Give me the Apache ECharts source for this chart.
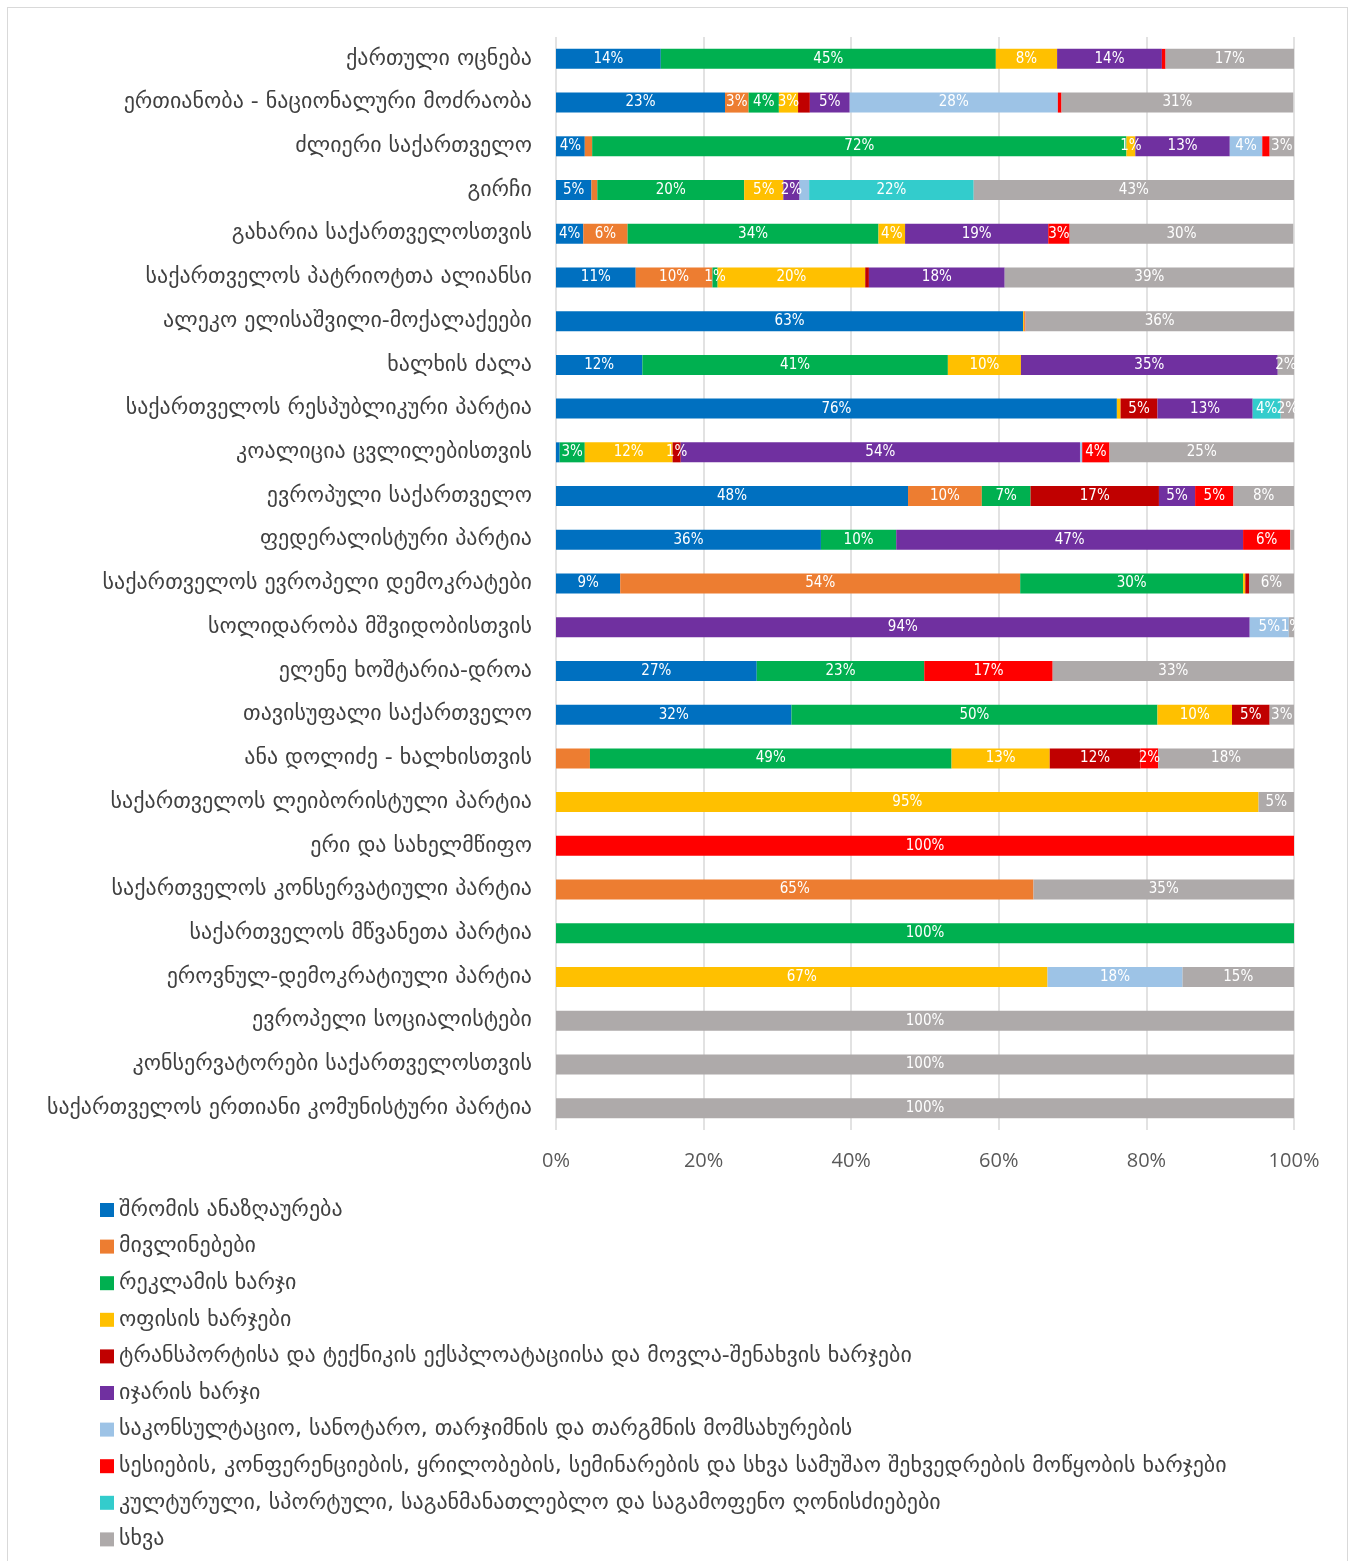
<!DOCTYPE html>
<html><head><meta charset="utf-8">
<script src="https://cdn.jsdelivr.net/npm/echarts@6/dist/echarts.min.js"></script>
<style>
html,body{margin:0;padding:0;background:#fff;}
#frame{position:absolute;left:7px;top:7px;width:1341px;height:1560px;border:1px solid #D9D9D9;border-bottom:none;box-sizing:border-box;}
#c{position:absolute;left:0;top:0;width:1356px;height:1561px;}
</style></head>
<body><div id="frame"></div><div id="c"></div>
<script>
const categories = [
 "ქართული ოცნება","ერთიანობა - ნაციონალური მოძრაობა","ძლიერი საქართველო","გირჩი",
 "გახარია საქართველოსთვის","საქართველოს პატრიოტთა ალიანსი","ალეკო ელისაშვილი-მოქალაქეები",
 "ხალხის ძალა","საქართველოს რესპუბლიკური პარტია","კოალიცია ცვლილებისთვის","ევროპული საქართველო",
 "ფედერალისტური პარტია","საქართველოს ევროპელი დემოკრატები","სოლიდარობა მშვიდობისთვის",
 "ელენე ხოშტარია-დროა","თავისუფალი საქართველო","ანა დოლიძე - ხალხისთვის",
 "საქართველოს ლეიბორისტული პარტია","ერი და სახელმწიფო","საქართველოს კონსერვატიული პარტია",
 "საქართველოს მწვანეთა პარტია","ეროვნულ-დემოკრატიული პარტია","ევროპელი სოციალისტები",
 "კონსერვატორები საქართველოსთვის","საქართველოს ერთიანი კომუნისტური პარტია"
];
const seriesNames = [
 "შრომის ანაზღაურება","მივლინებები","რეკლამის ხარჯი","ოფისის ხარჯები",
 "ტრანსპორტისა და ტექნიკის ექსპლოატაციისა და მოვლა-შენახვის ხარჯები","იჯარის ხარჯი",
 "საკონსულტაციო, სანოტარო, თარჯიმნის და თარგმნის მომსახურების",
 "სესიების, კონფერენციების, ყრილობების, სემინარების და სხვა სამუშაო შეხვედრების მოწყობის ხარჯები",
 "კულტურული, სპორტული, საგანმანათლებლო და საგამოფენო ღონისძიებები","სხვა"
];
// values in % per category (top to bottom)
const wages      = [14.2,22.9,3.9,4.8,3.7,10.8,63.3,11.7,76.0,0.5,47.7,35.9,8.7,0,27.2,31.9,0,0,0,0,0,0,0,0,0];
const travel     = [0,3.2,1.0,0.8,6.0,10.4,0,0,0,0,10.0,0,54.2,0,0,0,4.6,0,0,64.7,0,0,0,0,0];
const advert     = [45.4,4.1,72.4,19.9,34.0,0.7,0,41.4,0,3.4,6.6,10.2,30.2,0,22.7,49.6,49.0,0,0,0,100,0,0,0,0];
const office     = [8.3,2.6,1.2,5.3,3.6,20.0,0.2,9.9,0.5,11.9,0,0,0.3,0,0,10.1,13.3,95.2,0,0,0,66.6,0,0,0];
const transport  = [0,1.6,0,0,0,0.5,0,0,5.0,1.1,17.4,0,0.5,0,0,5.1,12.3,0,0,0,0,0,0,0,0];
const rent       = [14.2,5.4,12.8,2.2,19.4,18.4,0,34.8,12.9,54.1,4.9,47.0,0,94.0,0,0,0,0,0,0,0,0,0,0,0];
const consulting = [0,28.2,4.4,1.3,0,0,0,0,0,0.3,0,0,0,5.3,0,0,0,0,0,0,0,18.3,0,0,0];
const meetings   = [0.5,0.5,1.0,0,2.9,0,0.1,0,0,3.7,5.2,6.4,0,0,17.4,0,2.4,0,100,0,0,0,0,0,0];
const culture    = [0,0,0,22.3,0,0,0,0,3.8,0,0,0,0,0,0,0,0,0,0,0,0,0,0,0,0];
const other      = [17.4,31.4,3.3,43.4,30.3,39.2,36.4,2.2,1.8,25.0,8.2,0.5,6.1,0.7,32.7,3.3,18.4,4.8,0,35.3,0,15.1,100,100,100];
const seriesValues = [wages,travel,advert,office,transport,rent,consulting,meetings,culture,other];
const xTicks = ["0%","20%","40%","60%","80%","100%"];
// segments whose data label is not shown in the original: [categoryIndex, seriesIndex]
const unlabeled = [[1,4],[2,1],[2,7],[3,1],[3,6],[16,1]];

const colors = ["#0070C0","#ED7D31","#00B050","#FFC000","#C00000","#7030A0","#9DC3E6","#FF0000","#33CCCC","#AEAAAA"];
const geo = "'DejaVu Sans', 'Noto Sans', sans-serif";
const num = "'Liberation Sans Narrow','DejaVu Sans Condensed','Open Sans', sans-serif";

const chart = echarts.init(document.getElementById('c'), null, {renderer:'canvas'});
const series = seriesNames.map((name, si) => ({
  name, type:'bar', stack:'total', barWidth:20,
  itemStyle:{color:colors[si]},
  emphasis:{disabled:true},
  label:{
    show:true, position:'inside', color:'#fff', fontSize:15, fontFamily:num,
    formatter: p => {
      if (p.value < 0.6) return '';
      if (unlabeled.some(u => u[0]===p.dataIndex && u[1]===si)) return '';
      return Math.round(p.value) + '%';
    }
  },
  data: seriesValues[si]
}));

chart.setOption({
  animation:false,
  color:colors,
  grid:{left:556, top:37, width:738, height:1093, containLabel:false},
  xAxis:{
    type:'value', min:0, max:100, interval:20,
    axisLine:{show:false}, axisTick:{show:false},
    splitLine:{show:true, lineStyle:{color:'#D9D9D9', width:1.5}},
    axisLabel:{formatter:(v)=>xTicks[v/20], fontSize:20, color:'#595959', margin:21, fontFamily:"'Open Sans', sans-serif"}
  },
  yAxis:{
    type:'category', data:categories, inverse:true,
    axisLine:{show:false}, axisTick:{show:false},
    axisLabel:{fontSize:22, color:'#404040', margin:24, fontFamily:geo}
  },
  legend:{
    orient:'vertical', left:100, top:1199, padding:0,
    icon:'rect', itemWidth:14, itemHeight:14, itemGap:14.6,
    textStyle:{fontSize:22, color:'#404040', fontFamily:geo, lineHeight:22},
    data:seriesNames
  },
  series
});
</script></body></html>
